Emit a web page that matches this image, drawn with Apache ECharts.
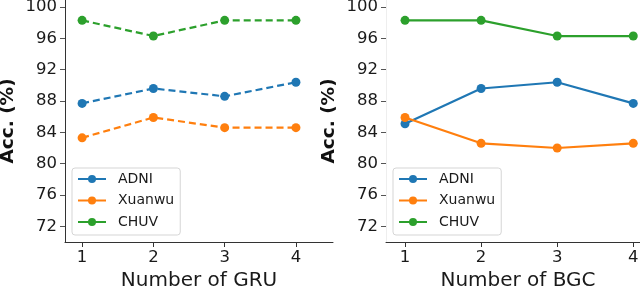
<!DOCTYPE html>
<html><head><meta charset="utf-8">
<script src="https://cdn.jsdelivr.net/npm/echarts@6/dist/echarts.min.js"></script>
<style>html,body{margin:0;padding:0;background:#fff}#c{width:640px;height:288px}</style>
</head><body><div id="c"></div>
<script>
const xTicks = [1, 2, 3, 4];
const yTicks = [72, 76, 80, 84, 88, 92, 96, 100];
const seriesNames = ['ADNI', 'Xuanwu', 'CHUV'];
const colors = ['#1f77b4', '#ff7f0e', '#2ca02c'];
// Left panel: Number of GRU
const gruADNI = [87.7, 89.6, 88.6, 90.4];
const gruXuanwu = [83.3, 85.9, 84.6, 84.6];
const gruCHUV = [98.3, 96.3, 98.3, 98.3];
// Right panel: Number of BGC
const bgcADNI = [85.1, 89.6, 90.4, 87.7];
const bgcXuanwu = [85.9, 82.6, 82.0, 82.6];
const bgcCHUV = [98.3, 98.3, 96.3, 96.3];

const FONT = 'DejaVu Sans';
const pair = vals => vals.map((v, i) => [xTicks[i], v]);

function xAxis(idx, min, max, name) {
  return {
    type: 'value', gridIndex: idx, min: min, max: max,
    name: name, nameLocation: 'middle', nameGap: 26,
    nameTextStyle: {fontFamily: FONT, fontSize: 20, color: '#1a1a1a'},
    axisLine: {show: true, lineStyle: {color: '#333', width: 1}},
    axisTick: {show: true, customValues: xTicks, length: 5, lineStyle: {color: '#333'}},
    axisLabel: {customValues: xTicks, fontFamily: FONT, fontSize: 16.5, color: '#1a1a1a', margin: 7},
    splitLine: {show: false}
  };
}
function yAxis(idx, spineColor) {
  return {
    type: 'value', gridIndex: idx, min: 70, max: 100.9,
    name: 'Acc. (%)', nameLocation: 'middle', nameGap: 47, nameRotate: 90,
    nameTextStyle: {fontFamily: FONT, fontSize: 18.5, fontWeight: 'bold', color: '#111'},
    axisLine: {show: true, lineStyle: {color: spineColor, width: 1}},
    axisTick: {show: true, customValues: yTicks, length: 5, lineStyle: {color: '#555'}},
    axisLabel: {customValues: yTicks, fontFamily: FONT, fontSize: 16.5, color: '#1a1a1a', margin: 8, verticalAlign: 'middle'},
    splitLine: {show: false}
  };
}
function mk(name, data, idx, dashed, color) {
  return {
    name: name, type: 'line', xAxisIndex: idx, yAxisIndex: idx,
    data: pair(data), symbol: 'circle', symbolSize: 9,
    lineStyle: {color: color, width: 2.2, type: dashed ? [7, 4] : 'solid'},
    itemStyle: {color: color}, animation: false
  };
}
function legend(left) {
  return {
    left: left, top: 168, orient: 'vertical', data: seriesNames,
    itemWidth: 28, itemHeight: 10, itemGap: 7.5,
    padding: [4, 6, 6, 5],
    borderColor: '#d5d5d5', borderWidth: 1, borderRadius: 3,
    backgroundColor: 'rgba(255,255,255,0.8)',
    textStyle: {fontFamily: FONT, fontSize: 14, color: '#1a1a1a', padding: [0, 0, 0, 7]},
    lineStyle: {type: 'solid'}, selectedMode: false
  };
}

const chart = echarts.init(document.getElementById('c'), null, {renderer: 'canvas'});
chart.setOption({
  animation: false,
  grid: [
    {left: 65, top: 0, width: 268, height: 242, containLabel: false, outerBoundsMode: 'none'},
    {left: 386, top: 0, width: 264, height: 242, containLabel: false, outerBoundsMode: 'none'}
  ],
  xAxis: [xAxis(0, 0.76, 4.52, 'Number of GRU'), xAxis(1, 0.75, 4.22, 'Number of BGC')],
  yAxis: [yAxis(0, '#333'), yAxis(1, '#eeeeee')],
  legend: [legend(72), legend(393)],
  series: [
    mk(seriesNames[0], gruADNI, 0, true, colors[0]),
    mk(seriesNames[1], gruXuanwu, 0, true, colors[1]),
    mk(seriesNames[2], gruCHUV, 0, true, colors[2]),
    mk(seriesNames[0], bgcADNI, 1, false, colors[0]),
    mk(seriesNames[1], bgcXuanwu, 1, false, colors[1]),
    mk(seriesNames[2], bgcCHUV, 1, false, colors[2])
  ]
});
</script></body></html>
